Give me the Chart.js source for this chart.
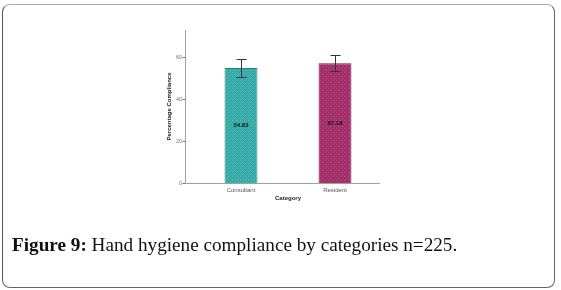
<!DOCTYPE html>
<html>
<head>
<meta charset="utf-8">
<script src="https://cdn.jsdelivr.net/npm/chart.js@4"></script>
<style>
html,body{margin:0;padding:0;background:#fff;width:561px;height:290px;overflow:hidden;}
#frame{position:absolute;left:2px;top:4px;width:551px;height:282px;border:1.5px solid #999;border-color:#aaa #666 #666 #555;border-radius:8px;}
#wrap{position:absolute;left:0;top:0;width:561px;height:290px;}
#cap{position:absolute;left:12px;top:234px;font-family:"Liberation Serif","Times New Roman",serif;font-size:19.2px;color:#111;white-space:nowrap;}
#cap b{font-weight:bold;}
</style>
</head>
<body>
<div id="frame"></div>
<div id="wrap"><canvas id="c" width="561" height="290"></canvas></div>
<div id="cap"><b>Figure 9:</b> Hand hygiene compliance by categories n=225.</div>
<script>
const categories = ["Consultant", "Resident"];
const compliance = [54.83, 57.18];
const errLow = [50.6, 53.3];
const errHigh = [59.0, 61.2];
const yTicks = [0, 20, 40, 60];

function makePattern(base, dot) {
  const p = document.createElement('canvas');
  p.width = 4; p.height = 4;
  const g = p.getContext('2d');
  g.fillStyle = base; g.fillRect(0, 0, 4, 4);
  g.fillStyle = dot;
  g.fillRect(0, 0, 1, 1); g.fillRect(2, 2, 1, 1);
  return g.createPattern(p, 'repeat');
}
const ctx0 = document.getElementById('c').getContext('2d');
const fills = [makePattern('#35aaa7', '#5cc3c0'), makePattern('#a22e6a', '#bb5188')];
const borders = ['#2f7f7d', '#6e1f48'];

const axisPlugin = {
  id: 'axisPlugin',
  afterDatasetsDraw(chart) {
    const ctx = chart.ctx;
    const ca = chart.chartArea;
    const y = chart.scales.y;
    const ax = ca.left - 9;
    ctx.save();
    ctx.strokeStyle = '#a0a0a0';
    ctx.lineWidth = 1;
    ctx.beginPath();
    ctx.moveTo(ax + 0.5, ca.top);
    ctx.lineTo(ax + 0.5, ca.bottom + 0.5);
    ctx.lineTo(ca.right - 2, ca.bottom + 0.5);
    ctx.stroke();
    ctx.strokeStyle = '#777';
    yTicks.forEach(v => {
      const py = Math.round(y.getPixelForValue(v)) + 0.5;
      ctx.beginPath();
      ctx.moveTo(ax - 2.5, py);
      ctx.lineTo(ax + 0.5, py);
      ctx.stroke();
    });
    ctx.strokeStyle = '#333';
    const meta = chart.getDatasetMeta(0);
    meta.data.forEach((bar, i) => {
      const cx = Math.round(bar.x) + 0.5;
      const yh = Math.round(y.getPixelForValue(errHigh[i])) + 0.5;
      const yl = Math.round(y.getPixelForValue(errLow[i])) + 0.5;
      ctx.beginPath();
      ctx.moveTo(cx, yh); ctx.lineTo(cx, yl);
      ctx.moveTo(cx - 5, yh); ctx.lineTo(cx + 5, yh);
      ctx.moveTo(cx - 5, yl); ctx.lineTo(cx + 5, yl);
      ctx.stroke();
      ctx.fillStyle = '#111';
      ctx.font = 'bold 6px "Liberation Sans", Arial, sans-serif';
      ctx.textAlign = 'center';
      ctx.textBaseline = 'middle';
      ctx.fillText(compliance[i].toFixed(2), bar.x, y.getPixelForValue(compliance[i] / 2));
    });
    ctx.restore();
  }
};

new Chart(ctx0, {
  type: 'bar',
  data: {
    labels: categories,
    datasets: [{
      data: compliance,
      backgroundColor: fills,
      borderColor: borders,
      borderWidth: 1,
      barPercentage: 0.35,
      categoryPercentage: 1.0
    }]
  },
  options: {
    responsive: false,
    animation: false,
    events: [],
    layout: { padding: { left: 164, right: 179, top: 30, bottom: 87 } },
    plugins: { legend: { display: false }, tooltip: { enabled: false } },
    scales: {
      x: {
        afterFit(s) { s.height = 20; },
        grid: { display: false, drawTicks: false, tickLength: 0 },
        border: { display: false },
        ticks: { color: '#555', font: { size: 6, family: '"Liberation Sans", Arial, sans-serif' }, padding: 4, maxRotation: 0 },
        title: { display: true, text: 'Category', color: '#222', font: { size: 6, weight: 'bold', family: '"Liberation Sans", Arial, sans-serif' }, padding: { top: 0, bottom: 1 } }
      },
      y: {
        min: 0, max: 73,
        afterFit(s) { s.width = 30; },
        afterBuildTicks(s) { s.ticks = yTicks.map(v => ({ value: v })); },
        grid: { display: false, drawTicks: false, tickLength: 0 },
        border: { display: false },
        ticks: { color: '#777', font: { size: 5.5, family: '"Liberation Sans", Arial, sans-serif' }, padding: 12 },
        title: { display: true, text: 'Percentage Compliance', color: '#222', font: { size: 6, weight: 'bold', family: '"Liberation Sans", Arial, sans-serif' }, padding: 2 }
      }
    }
  },
  plugins: [axisPlugin]
});
</script>
</body>
</html>
